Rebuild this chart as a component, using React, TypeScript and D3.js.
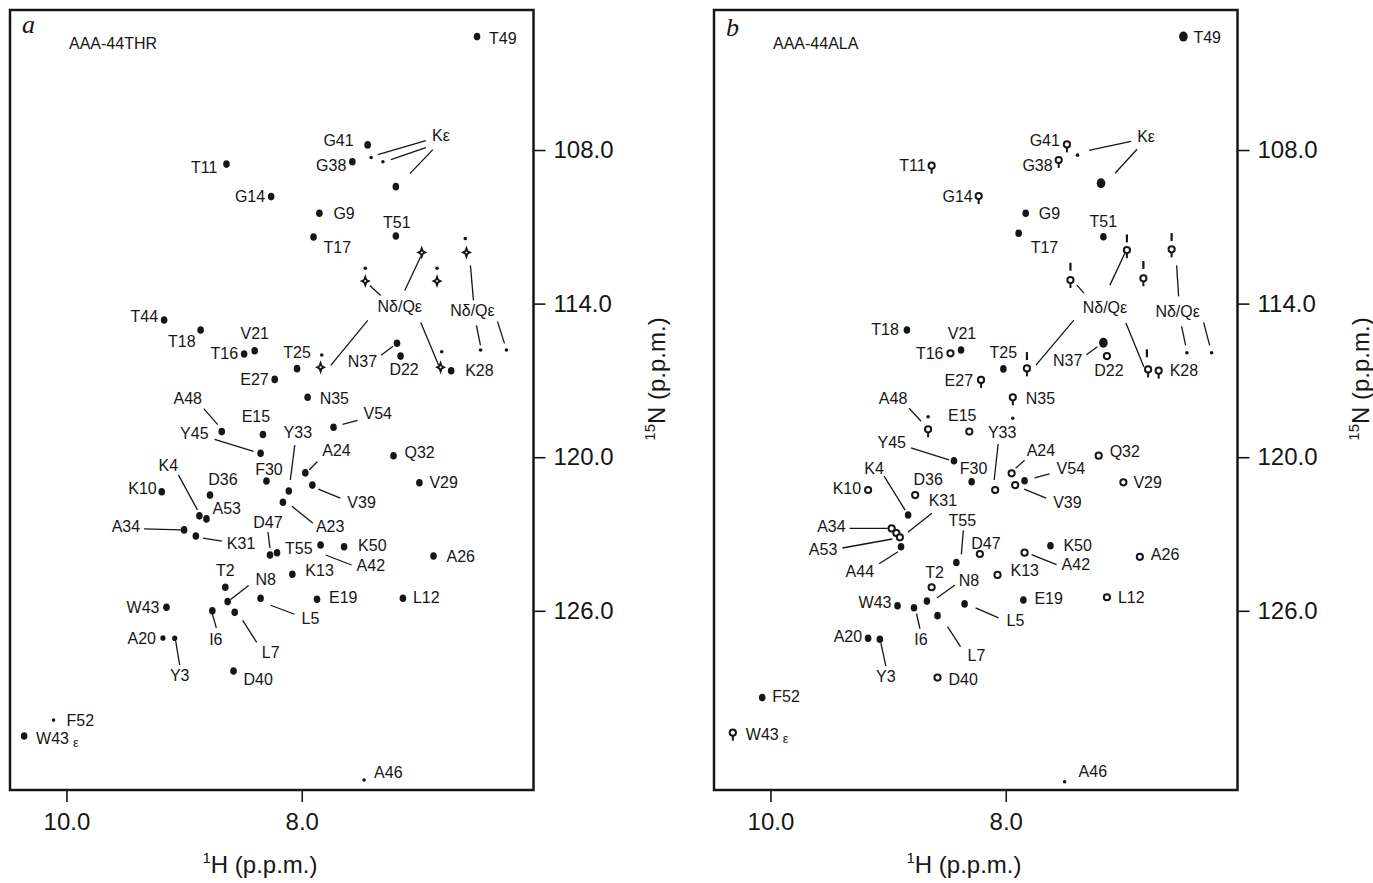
import React, { useEffect, useRef } from "react";
import * as d3 from "d3";

// axis ranges (p.p.m.) shown inside each frame
const H_DOMAIN = [10.48, 6.03];
const N_DOMAIN = [102.53, 133.0];
const hTicks = [10.0, 8.0];
const nTicks = [108.0, 114.0, 120.0, 126.0];

const panelLetters = ["a", "b"];
const sampleNames = ["AAA-44THR", "AAA-44ALA"];

// [peak id, 1H ppm, 15N ppm]
type Peak = [string, number, number];

const peaksA: Peak[] = [
  ["T49", 6.51, 103.57], ["G41", 7.44, 107.8], ["Ke1", 7.41, 108.29], ["Ke2", 7.31, 108.46],
  ["Ke3", 7.2, 109.43], ["G38", 7.57, 108.46], ["T11", 8.64, 108.55], ["G14", 8.26, 109.82],
  ["G9", 7.85, 110.47], ["T51", 7.2, 111.36], ["T17", 7.9, 111.4],
  ["s1", 6.98, 112.0], ["s2", 6.6, 112.0], ["s2m", 6.61, 111.46], ["s3", 7.46, 113.12],
  ["s3m", 7.46, 112.62], ["s4", 6.85, 113.12], ["s4m", 6.85, 112.62], ["s5", 7.84, 116.49],
  ["s5m", 7.83, 116.01], ["s6", 6.82, 116.49], ["s6m", 6.81, 115.88], ["s7", 6.48, 115.81],
  ["s8", 6.26, 115.81],
  ["K28", 6.73, 116.62], ["N37", 7.19, 115.55], ["D22", 7.16, 116.05], ["T44", 9.17, 114.64],
  ["T18", 8.86, 115.03], ["V21", 8.4, 115.84], ["T16", 8.49, 115.97], ["T25", 8.04, 116.54],
  ["E27", 8.23, 116.96], ["N35", 7.95, 117.66], ["V54", 7.73, 118.83], ["A48", 8.68, 119.0],
  ["E15", 8.33, 119.11], ["Y45", 8.35, 119.85], ["F30", 8.3, 120.93], ["Y33", 8.11, 121.32],
  ["A24", 7.97, 120.61], ["Q32", 7.22, 119.94], ["V39", 7.91, 121.09], ["V29", 7.0, 121.0],
  ["A23", 8.16, 121.76], ["K4", 8.87, 122.29], ["A53", 8.81, 122.41], ["D36", 8.78, 121.48],
  ["K10", 9.19, 121.35], ["A34", 9.0, 122.84], ["K31", 8.9, 123.08], ["D47", 8.27, 123.82],
  ["T55", 8.21, 123.73], ["A42", 7.84, 123.43], ["K50", 7.64, 123.5], ["A26", 6.88, 123.86],
  ["K13", 8.08, 124.57], ["T2", 8.65, 125.08], ["N8", 8.63, 125.64], ["L5", 8.35, 125.51],
  ["E19", 7.87, 125.55], ["L12", 7.14, 125.51], ["W43", 9.15, 125.86], ["I6", 8.76, 126.0],
  ["L7", 8.57, 126.06], ["A20", 9.18, 127.06], ["Y3", 9.08, 127.07], ["D40", 8.58, 128.35],
  ["F52", 10.11, 130.27], ["W43e", 10.36, 130.89], ["A46", 7.47, 132.61],
];

const peaksB: Peak[] = [
  ["T49", 6.49, 103.57], ["G41", 7.48, 107.78], ["Ke1", 7.39, 108.2], ["Ke3", 7.19, 109.3],
  ["G38", 7.55, 108.39], ["T11", 8.63, 108.61], ["G14", 8.23, 109.8], ["G9", 7.83, 110.47],
  ["T51", 7.17, 111.39], ["T17", 7.89, 111.25],
  ["s1", 6.97, 111.91], ["s1m", 6.97, 111.45], ["s2", 6.59, 111.88], ["s2m", 6.59, 111.4],
  ["s3", 7.45, 113.08], ["s3m", 7.45, 112.56], ["s4", 6.83, 113.01], ["s4m", 6.83, 112.49],
  ["s5", 7.82, 116.53], ["s5m", 7.82, 116.05], ["s6", 6.79, 116.57], ["s6m", 6.8, 115.94],
  ["s7", 6.46, 115.92], ["s8", 6.25, 115.92],
  ["K28", 6.7, 116.62], ["N37", 7.17, 115.53], ["D22", 7.14, 116.05], ["T18", 8.84, 115.03],
  ["V21", 8.38, 115.81], ["T16", 8.47, 115.94], ["T25", 8.02, 116.55], ["E27", 8.21, 116.98],
  ["N35", 7.94, 117.66], ["A48", 8.66, 118.91], ["A48m", 8.66, 118.42], ["E15", 8.31, 119.0],
  ["X1", 7.94, 118.48], ["Y45", 8.44, 120.14], ["Y33", 8.09, 121.28], ["F30", 8.29, 120.96],
  ["A24", 7.95, 120.63], ["V54", 7.84, 120.92], ["V39", 7.92, 121.09], ["Q32", 7.21, 119.94],
  ["V29", 7.0, 120.98], ["K10", 9.17, 121.28], ["D36", 8.77, 121.48], ["K4", 8.83, 122.26],
  ["A34", 8.97, 122.78], ["A53", 8.93, 122.96], ["K31", 8.9, 123.13], ["A44", 8.89, 123.5],
  ["T55", 8.42, 124.11], ["D47", 8.22, 123.78], ["A42", 7.84, 123.73], ["K50", 7.62, 123.46],
  ["A26", 6.86, 123.89], ["K13", 8.07, 124.6], ["T2", 8.63, 125.08], ["N8", 8.67, 125.62],
  ["L5", 8.35, 125.73], ["E19", 7.85, 125.58], ["L12", 7.14, 125.47], ["W43", 8.92, 125.8],
  ["I6", 8.78, 125.88], ["L7", 8.58, 126.19], ["A20", 9.17, 127.07], ["Y3", 9.07, 127.11],
  ["D40", 8.58, 128.61], ["F52", 10.07, 129.39], ["W43e", 10.32, 130.76], ["A46", 7.5, 132.68],
];

// label text that differs from the peak id
const labelText: Record<string, string> = { Ke3: "Kε", s1: "Nδ/Qε", s2: "Nδ/Qε" };

// label placement: offset in px from its peak, and anchor (s/m/e)
type Place = [number, number, string];
const placeA: Record<string, Place> = {
  T49: [12, 2, "s"], G41: [-14, -5, "e"], G38: [-6, 4, "e"], T11: [-9, 3, "e"], G14: [-6, 0, "e"],
  G9: [14, 0, "s"], T51: [1, -14, "m"], T17: [10, 10, "s"], Ke3: [45, -51, "m"], s1: [-22, 54, "m"],
  s2: [6, 58, "m"], T44: [-6, -4, "e"], T18: [-5, 11, "e"], V21: [0, -17, "m"], T16: [-6, -1, "e"],
  T25: [0, -16, "m"], E27: [-6, 0, "e"], N35: [12, 1, "s"], N37: [-20, 18, "e"], D22: [3.5, 13, "m"],
  K28: [14, 0, "s"], V54: [30, -14, "s"], A48: [-34, -33, "m"], E15: [-7, -18, "m"], Y45: [-52, -20, "e"],
  F30: [2.5, -12, "m"], Y33: [9, -59, "m"], A24: [17, -22, "s"], Q32: [11, -3, "s"], V39: [35, 17, "s"],
  V29: [10, 0, "s"], A23: [33, 24, "s"], K4: [-31, -50, "m"], A53: [6, -11, "s"], D36: [13, -16, "m"],
  K10: [-5, -3, "e"], A34: [-44, -4, "e"], K31: [31, 7, "s"], D47: [-2, -33, "m"], T55: [8, -4, "s"],
  A42: [36, 20, "s"], K50: [14, -1, "s"], A26: [13, 0, "s"], K13: [13, -4, "s"], T2: [0, -17, "m"],
  N8: [38, -22, "m"], L5: [41, 20, "s"], E19: [12, -2, "s"], L12: [10, -1, "s"], W43: [-7, 0, "e"],
  I6: [3.5, 29, "m"], L7: [36, 40, "m"], A20: [-7, 0, "e"], Y3: [5, 37, "m"], D40: [10, 8, "s"],
  F52: [13, 0, "s"], W43e: [12, 2, "s"], A46: [10, -8, "s"],
};
const placeB: Record<string, Place> = {
  T49: [10, 1, "s"], G41: [-7, -4, "e"], G38: [-6, 5, "e"], T11: [-6, 0, "e"], G14: [-6, 0, "e"],
  G9: [13, 0, "s"], T51: [0, -15, "m"], T17: [12, 14, "s"], Ke3: [45, -47, "m"], s1: [-22, 57, "m"],
  s2: [6, 62, "m"], T18: [-8, -1, "e"], V21: [1, -17, "m"], T16: [-7, 0, "e"], T25: [0, -16, "m"],
  E27: [-8, 0, "e"], N35: [13, 1, "s"], N37: [-21, 18, "e"], D22: [2, 14, "m"], K28: [11, 0, "s"],
  A48: [-35, -31, "m"], E15: [-7, -16, "m"], Y45: [-48, -18, "e"], Y33: [7, -58, "m"], F30: [2, -13, "m"],
  A24: [15, -23, "s"], V54: [32, -12, "s"], V39: [38, 17, "s"], Q32: [11, -4, "s"], V29: [10, 0, "s"],
  K10: [-7, -2, "e"], D36: [13, -16, "m"], K4: [-34, -47, "m"], A34: [-46, -2, "e"], K31: [43, -37, "m"],
  A53: [-59, 16, "e"], A44: [-27, 25, "e"], T55: [6, -42, "m"], D47: [6, -11, "m"], A42: [37, 12, "s"],
  K50: [13, 0, "s"], A26: [11, -2, "s"], K13: [13, -5, "s"], T2: [3, -15, "m"], N8: [42, -21, "m"],
  L5: [42, 17, "s"], E19: [11, -2, "s"], L12: [11, 0, "s"], W43: [-6, -3, "e"], I6: [7, 32, "m"],
  L7: [39, 40, "m"], A20: [-6, -2, "e"], Y3: [6, 37, "m"], D40: [11, 2, "s"], F52: [10, -1, "s"],
  W43e: [13, 2, "s"], A46: [14, -10, "s"],
};

// leader lines, px offsets from the peak: [x1, y1, x2, y2]
const leadA: Record<string, number[][]> = {
  N37: [[-16, 12, -4, 3]], V54: [[9, -3, 24, -7]], A48: [[-18, -23, -4, -7]], Y45: [[-46, -14, -7, -2]],
  Y33: [[6, -46, 1.5, -11]], A24: [[12, -11, 4, -3]], V39: [[6, 4, 28, 13]], A23: [[9, 4, 30, 21]],
  K4: [[-21, -41, -2, -6]], A34: [[-40, -1, -3, 0]], K31: [[7, 2, 26, 5]], D47: [[-2, -23, 0, -7]],
  A42: [[5, 10, 31, 20]], N8: [[21, -16, 3, -2]], L5: [[10, 7, 34, 16]], I6: [[0, 3, 4, 17]],
  L7: [[8, 8, 22, 30]], Y3: [[1, 3, 5, 27]],
  Ke3: [[30, -46, -18, -32], [30, -39, -5, -27], [37, -37, 14, -13]],
  s1: [[-17, 38, -1, 4], [-41, 43, -52, 33], [-54, 68, -91, 113], [-1, 70, 17, 113]],
  s2: [[4, 13, 7, 48], [10, 73, 14, 93], [31, 69, 38, 91]],
};
const leadB: Record<string, number[][]> = {
  N37: [[-17, 12, -6, 4]], A48: [[-19, -21, -7, -8]], Y45: [[-43, -13, -5, -1]], Y33: [[3, -46, -1, -10]],
  A24: [[13, -13, 4, -5]], V54: [[25, -7, 10, -3]], V39: [[9, 4, 31, 13]], K4: [[-24, -39, -3, -5]],
  A34: [[-42, 0, -4, 0]], K31: [[32, -24, 8, -5]], A53: [[-54, 15, -4, 6]], A44: [[-22, 17, -3, 5]],
  T55: [[7, -32, 5, -8]], A42: [[7, 2, 32, 12]], N8: [[28, -16, 10, -3]], L5: [[11, 4, 34, 14]],
  I6: [[2.5, 6, 6, 21]], L7: [[10, 11, 23, 31]], Y3: [[1, 4, 6, 27]],
  Ke3: [[30, -42, -12, -33], [36, -34, 14, -10]],
  s1: [[-17, 35, -2, 3], [-43, 43, -50, 35], [-53, 70, -91, 115], [-1, 73, 17, 117]],
  s2: [[5, 16, 7, 47], [10, 77, 14, 96], [32, 73, 38, 96]],
};

// marker shapes; everything not listed is a filled dot
const kindA: Record<string, string> = {
  Ke1: "small", Ke2: "small", s2m: "small", s3m: "small", s4m: "small", s5m: "small", s6m: "small",
  s7: "small", s8: "small", F52: "small", A46: "small", A20: "mid", Y3: "mid",
  s1: "star", s2: "star", s3: "star", s4: "star", s5: "star", s6: "star",
};
const kindB: Record<string, string> = {
  T49: "big", N37: "big", Ke3: "big",
  G41: "stem", G38: "stem", T11: "stem", G14: "stem", E27: "stem", N35: "stem", K28: "stem",
  A48: "stem", W43e: "stem", s1: "stem", s2: "stem", s3: "stem", s4: "stem", s5: "stem", s6: "stem",
  s1m: "dash", s2m: "dash", s3m: "dash", s4m: "dash", s5m: "dash", s6m: "dash",
  Ke1: "small", X1: "small", s7: "small", s8: "small", A48m: "small", A46: "small",
  T16: "ring", D22: "ring", E15: "ring", Y33: "ring", A24: "ring", V39: "ring", Q32: "ring",
  V29: "ring", K10: "ring", D36: "ring", A34: "ring", A53: "ring", K31: "ring", D47: "ring",
  A42: "ring", A26: "ring", K13: "ring", T2: "ring", L12: "ring", D40: "ring",
};

const FONT = "'Liberation Sans', Arial, Helvetica, sans-serif";
const INK = "#161616";
const anchors: Record<string, string> = { s: "start", m: "middle", e: "end" };

function drawMark(g: any, kind: string, cx: number, cy: number) {
  if (kind === "star") {
    g.append("path")
      .attr("d", "M0,-7L1.8,-1.8L5.5,0L1.8,1.8L0,7L-1.8,1.8L-5.5,0L-1.8,-1.8Z")
      .attr("transform", `translate(${cx},${cy})`)
      .attr("fill", INK);
    g.append("circle").attr("cx", cx).attr("cy", cy).attr("r", 1).attr("fill", "#fff");
  } else if (kind === "ring" || kind === "stem") {
    if (kind === "stem") {
      g.append("line").attr("x1", cx).attr("x2", cx).attr("y1", cy + 2).attr("y2", cy + 8)
        .attr("stroke", INK).attr("stroke-width", 2);
    }
    g.append("circle").attr("cx", cx).attr("cy", cy).attr("r", 3.1)
      .attr("fill", "#fff").attr("stroke", INK).attr("stroke-width", 2);
  } else if (kind === "dash") {
    g.append("line").attr("x1", cx).attr("x2", cx).attr("y1", cy - 4).attr("y2", cy + 4)
      .attr("stroke", INK).attr("stroke-width", 2.2);
  } else {
    const r = ({ small: [1.8, 1.8], mid: [2.6, 2.8], big: [4.3, 5] } as any)[kind] || [3.3, 3.8];
    g.append("ellipse").attr("cx", cx).attr("cy", cy).attr("rx", r[0]).attr("ry", r[1]).attr("fill", INK);
  }
}

function drawPanel(root: any, i: number, peaks: Peak[], place: Record<string, Place>,
  lead: Record<string, number[][]>, kinds: Record<string, string>) {
  const ox = i * 704;
  const x = d3.scaleLinear().domain(H_DOMAIN).range([10, 533.5]);
  const y = d3.scaleLinear().domain(N_DOMAIN).range([10, 790]);
  const [x0, x1] = x.range();
  const [y0, y1] = y.range();
  const g = root.append("g").attr("transform", `translate(${ox},0)`);

  g.append("rect").attr("x", x0).attr("y", y0).attr("width", x1 - x0).attr("height", y1 - y0)
    .attr("fill", "none").attr("stroke", INK).attr("stroke-width", 2.5);

  const bottom = g.append("g").attr("transform", `translate(0,${y1})`)
    .call(d3.axisBottom(x).tickValues(hTicks).tickFormat(d3.format(".1f")).tickSize(12).tickPadding(11));
  const right = g.append("g").attr("transform", `translate(${x1},0)`)
    .call(d3.axisRight(y).tickValues(nTicks).tickFormat(d3.format(".1f")).tickSize(12).tickPadding(8));
  [bottom, right].forEach((a) => {
    a.select(".domain").remove();
    a.selectAll("line").attr("stroke", INK).attr("stroke-width", 1.6);
    a.selectAll("text").attr("font-size", 24).attr("font-family", FONT).attr("fill", INK);
  });

  // axis titles
  const xt = g.append("text").attr("x", 260).attr("y", 873).attr("text-anchor", "middle")
    .attr("font-family", FONT).attr("font-size", 24).attr("fill", INK);
  xt.append("tspan").attr("font-size", 15).attr("dy", -10).text("1");
  xt.append("tspan").attr("dy", 10).text("H (p.p.m.)");
  const yt = g.append("text").attr("transform", "translate(665,379) rotate(-90)")
    .attr("text-anchor", "middle").attr("font-family", FONT).attr("font-size", 24).attr("fill", INK);
  yt.append("tspan").attr("font-size", 15).attr("dy", -10).text("15");
  yt.append("tspan").attr("dy", 10).text("N (p.p.m.)");

  g.append("text").attr("x", x0 + 12).attr("y", 33 + i * 3).attr("font-family", "'Liberation Serif', 'Times New Roman', serif")
    .attr("font-style", "italic").attr("font-size", 26).attr("fill", INK).text(panelLetters[i]);
  g.append("text").attr("x", 69).attr("y", 48.5).attr("font-family", FONT).attr("font-size", 16)
    .attr("fill", INK).text(sampleNames[i]);

  const pos = new Map(peaks.map((p) => [p[0], [x(p[1]), y(p[2])]]));

  // leader lines
  Object.entries(lead).forEach(([id, segs]) => {
    const [px, py] = pos.get(id)!;
    segs.forEach((s) => {
      g.append("line").attr("x1", px + s[0]).attr("y1", py + s[1]).attr("x2", px + s[2]).attr("y2", py + s[3])
        .attr("stroke", INK).attr("stroke-width", 1.3);
    });
  });

  peaks.forEach(([id]) => {
    const [px, py] = pos.get(id)!;
    drawMark(g, kinds[id] || "dot", px, py);
  });

  Object.entries(place).forEach(([id, [dx, dy, a]]) => {
    const [px, py] = pos.get(id)!;
    const t = g.append("text").attr("x", px + dx).attr("y", py + dy).attr("dy", "0.35em")
      .attr("text-anchor", anchors[a]).attr("font-family", FONT).attr("font-size", 16).attr("fill", INK);
    if (id === "W43e") {
      t.append("tspan").text("W43");
      t.append("tspan").attr("font-size", 13).attr("dx", 4).attr("dy", 3).text("ε");
    } else {
      t.text(labelText[id] || id);
    }
  });
}

const App = () => {
  const ref = useRef<SVGSVGElement>(null);

  useEffect(() => {
    const svg = d3.select(ref.current);
    svg.selectAll("*").remove();
    svg.append("rect").attr("width", 1373).attr("height", 883).attr("fill", "#fff");
    drawPanel(svg, 0, peaksA, placeA, leadA, kindA);
    drawPanel(svg, 1, peaksB, placeB, leadB, kindB);
  }, []);

  return (
    <svg ref={ref} width={1373} height={883}
      style={{ position: "absolute", left: 0, top: 0, background: "#fff" }} />
  );
};

export default App;
